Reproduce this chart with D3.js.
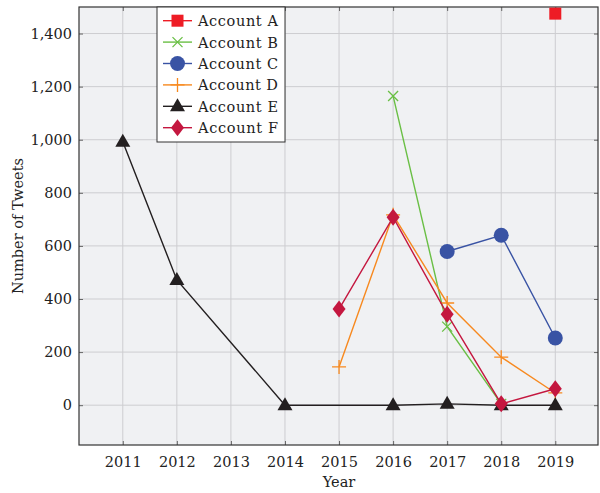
<!DOCTYPE html>
<html><head><meta charset="utf-8">
<script src="https://cdn.jsdelivr.net/npm/d3@7"></script>
<style>
html,body{margin:0;padding:0;background:#fff;}
svg text{font-family:"DejaVu Serif",serif !important;fill:#222;}
</style></head>
<body><svg id="chart" width="600" height="493"></svg>
<script>
const years = [2011,2012,2013,2014,2015,2016,2017,2018,2019];
const yTicks = [0,200,400,600,800,1000,1200,1400];
const seriesNames = ["Account A","Account B","Account C","Account D","Account E","Account F"];
const colors = ["#ee1c25","#6abf45","#3953a4","#f7891f","#231f20","#c4173f"];
const symbols = ["square","cross","circle","plus","triangle","diamond"];
const accountA = [[2019,1475]];
const accountB = [[2016,1165],[2017,296],[2018,5]];
const accountC = [[2017,579],[2018,640],[2019,253]];
const accountD = [[2015,144],[2016,717],[2017,385],[2018,181],[2019,46]];
const accountE = [[2011,992],[2012,472],[2014,0],[2016,0],[2017,5],[2018,0],[2019,0]];
const accountF = [[2015,362],[2016,708],[2017,343],[2018,5],[2019,62]];
const allSeries = [accountA,accountB,accountC,accountD,accountE,accountF];

const FS = 14.5;
const svg = d3.select("#chart");
const L=79, R=598, T=7, B=445;
const x = d3.scaleLinear().domain([2010.19,2019.79]).range([L,R]);
const y = d3.scaleLinear().domain([-150,1500]).range([B,T]);

svg.append("rect").attr("x",L).attr("y",T).attr("width",R-L).attr("height",B-T).attr("fill","#f0f1f3");

const grid = svg.append("g");
grid.selectAll(".gx").data(years).join("line")
  .attr("x1",d=>x(d)).attr("x2",d=>x(d)).attr("y1",T).attr("y2",B)
  .attr("stroke","#cdcdd0").attr("stroke-width",1);
grid.selectAll(".gy").data(yTicks).join("line")
  .attr("y1",d=>y(d)).attr("y2",d=>y(d)).attr("x1",L).attr("x2",R)
  .attr("stroke","#cdcdd0").attr("stroke-width",1);

const fmt = d3.format(",");
const axB = svg.append("g").attr("transform",`translate(0,${B})`)
  .call(d3.axisBottom(x).tickValues(years).tickFormat(d3.format("d")).tickSizeInner(-4).tickSizeOuter(0).tickPadding(12));
const axT = svg.append("g").attr("transform",`translate(0,${T})`)
  .call(d3.axisTop(x).tickValues(years).tickFormat("").tickSizeInner(-4).tickSizeOuter(0));
const axL = svg.append("g").attr("transform",`translate(${L},0)`)
  .call(d3.axisLeft(y).tickValues(yTicks).tickFormat(fmt).tickSizeInner(-4).tickSizeOuter(0).tickPadding(7));
const axR = svg.append("g").attr("transform",`translate(${R},0)`)
  .call(d3.axisRight(y).tickValues(yTicks).tickFormat("").tickSizeInner(-4).tickSizeOuter(0));
[axB,axT,axL,axR].forEach(a=>{
  a.attr("font-family",null).attr("font-size",null);
  a.select(".domain").remove();
  a.selectAll(".tick line").attr("stroke","#666").attr("stroke-width",1);
  a.selectAll(".tick text").attr("font-size",FS).attr("fill","#222");
});

svg.append("rect").attr("x",L).attr("y",T).attr("width",R-L).attr("height",B-T)
  .attr("fill","none").attr("stroke","#333").attr("stroke-width",1.2);

function marker(g, sym, color, cx, cy){
  if(sym==="square"){
    g.append("rect").attr("x",cx-6).attr("y",cy-6).attr("width",12).attr("height",12).attr("fill",color);
  } else if(sym==="circle"){
    g.append("circle").attr("cx",cx).attr("cy",cy).attr("r",7.5).attr("fill",color);
  } else if(sym==="triangle"){
    g.append("path").attr("d",`M${cx},${cy-8}L${cx+7.5},${cy+5}L${cx-7.5},${cy+5}Z`).attr("fill",color);
  } else if(sym==="diamond"){
    g.append("path").attr("d",`M${cx},${cy-8.5}L${cx+6.5},${cy}L${cx},${cy+8.5}L${cx-6.5},${cy}Z`).attr("fill",color);
  } else if(sym==="cross"){
    g.append("path").attr("d",`M${cx-5},${cy-5}L${cx+5},${cy+5}M${cx-5},${cy+5}L${cx+5},${cy-5}`).attr("stroke",color).attr("stroke-width",1.3);
  } else if(sym==="plus"){
    g.append("path").attr("d",`M${cx-7},${cy}L${cx+7},${cy}M${cx},${cy-7}L${cx},${cy+7}`).attr("stroke",color).attr("stroke-width",1.3);
  }
}

const line = d3.line().x(d=>x(d[0])).y(d=>y(d[1]));
allSeries.forEach((s,i)=>{
  const g = svg.append("g");
  g.append("path").datum(s).attr("d",line).attr("fill","none").attr("stroke",colors[i]).attr("stroke-width",1.4);
  s.forEach(d=>marker(g,symbols[i],colors[i],x(d[0]),y(d[1])));
});

const lg = svg.append("g");
lg.append("rect").attr("x",157).attr("y",7).attr("width",128).attr("height",135)
  .attr("fill","#fff").attr("stroke","#333").attr("stroke-width",1);
seriesNames.forEach((n,i)=>{
  const cy = 20.7 + i*21.4;
  lg.append("line").attr("x1",163).attr("x2",192).attr("y1",cy).attr("y2",cy).attr("stroke",colors[i]).attr("stroke-width",1.4);
  marker(lg,symbols[i],colors[i],177.5,cy);
  lg.append("text").attr("x",198).attr("y",cy+5.5).attr("font-size",FS).attr("textLength",80).text(n);
});

svg.append("text").attr("x",339).attr("y",487).attr("text-anchor","middle").attr("font-size",FS).text("Year");
svg.append("text").attr("transform",`translate(23,${(T+B)/2}) rotate(-90)`).attr("text-anchor","middle").attr("font-size",FS).text("Number of Tweets");
</script></body></html>
